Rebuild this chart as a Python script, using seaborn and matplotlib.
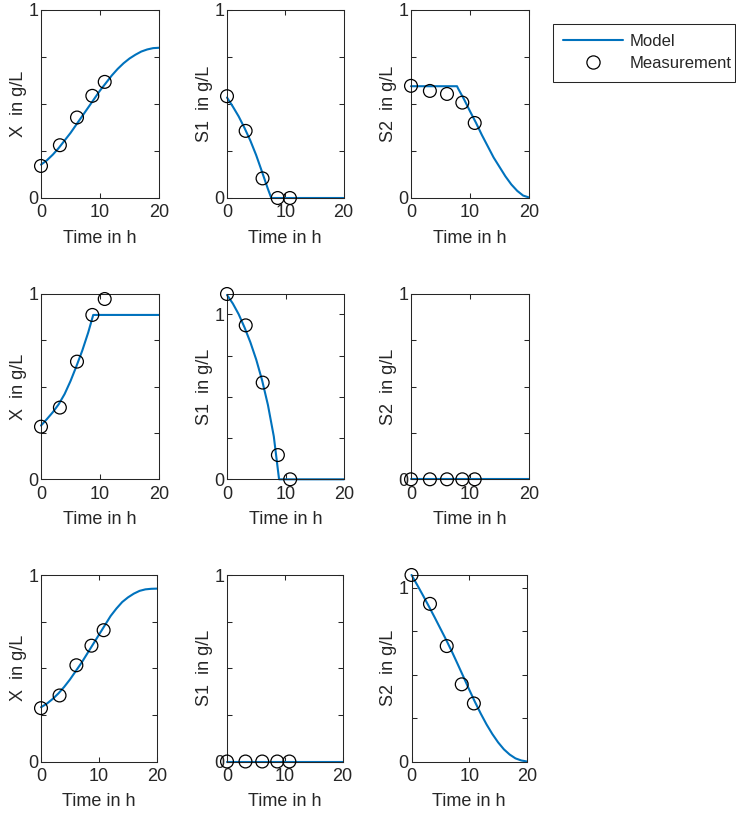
import numpy as np
import matplotlib
matplotlib.use("Agg")
import matplotlib.pyplot as plt
from matplotlib.lines import Line2D
import seaborn as sns

sns.set_style("ticks")
plt.rcParams["font.family"] = ["Liberation Sans", "DejaVu Sans"]

# Sampling times of the measurements (h)
t_meas = [0.0, 3.2, 6.1, 8.7, 10.8]

# Experiment 1 measurements (g/L)
x_meas_1 = [0.170, 0.280, 0.427, 0.542, 0.616]
s1_meas_1 = [0.540, 0.356, 0.104, 0.0, 0.0]
s2_meas_1 = [0.595, 0.568, 0.552, 0.506, 0.398]

# Experiment 2 measurements (g/L)
x_meas_2 = [0.284, 0.387, 0.635, 0.887, 0.973]
s1_meas_2 = [1.123, 0.933, 0.586, 0.147, 0.0]
s2_meas_2 = [0.0, 0.0, 0.0, 0.0, 0.0]

# Experiment 3 measurements (g/L)
x_meas_3 = [0.286, 0.354, 0.516, 0.621, 0.704]
s1_meas_3 = [0.0, 0.0, 0.0, 0.0, 0.0]
s2_meas_3 = [1.073, 0.907, 0.664, 0.444, 0.334]

# Model trajectories
t_hourly = list(range(0, 21))

x_model_1 = [0.177, 0.200, 0.230, 0.265, 0.305, 0.345, 0.390, 0.435, 0.480, 0.525,
             0.570, 0.610, 0.650, 0.685, 0.715, 0.740, 0.760, 0.777, 0.788, 0.795, 0.797]
t_s1_model_1 = [0, 1, 2, 3, 4, 5, 6, 7, 7.6, 20]
s1_model_1 = [0.533, 0.485, 0.433, 0.372, 0.305, 0.228, 0.140, 0.050, 0.0, 0.0]
t_s2_model_1 = [0, 7.8, 8, 9, 10, 11, 12, 13, 14, 15, 16, 17, 18, 19, 20]
s2_model_1 = [0.593, 0.593, 0.580, 0.523, 0.460, 0.400, 0.335, 0.275, 0.215, 0.165,
              0.115, 0.072, 0.038, 0.013, 0.003]

t_x_model_2 = [0, 1, 2, 3, 4, 5, 6, 7, 8, 8.85, 20]
x_model_2 = [0.290, 0.325, 0.362, 0.405, 0.460, 0.530, 0.610, 0.695, 0.792, 0.887, 0.887]
t_s1_model_2 = [0, 1, 2, 3, 4, 5, 6, 7, 8, 8.9, 20]
s1_model_2 = [1.117, 1.065, 1.000, 0.920, 0.830, 0.725, 0.600, 0.450, 0.260, 0.0, 0.0]
t_s2_model_2 = [0, 20]
s2_model_2 = [0.0, 0.0]

x_model_3 = [0.291, 0.310, 0.335, 0.365, 0.400, 0.440, 0.485, 0.530, 0.580, 0.630,
             0.680, 0.730, 0.780, 0.820, 0.855, 0.880, 0.900, 0.915, 0.923, 0.926, 0.927]
t_s1_model_3 = [0, 20]
s1_model_3 = [0.0, 0.0]
s2_model_3 = [1.073, 1.015, 0.955, 0.893, 0.830, 0.765, 0.700, 0.632, 0.560, 0.487,
              0.413, 0.342, 0.275, 0.213, 0.158, 0.110, 0.070, 0.040, 0.018, 0.006, 0.0]

y_labels = ["X  in g/L", "S1  in g/L", "S2  in g/L"]
x_label = "Time in h"
legend_labels = ["Model", "Measurement"]

panels = [
    [(t_hourly, x_model_1, x_meas_1), (t_s1_model_1, s1_model_1, s1_meas_1), (t_s2_model_1, s2_model_1, s2_meas_1)],
    [(t_x_model_2, x_model_2, x_meas_2), (t_s1_model_2, s1_model_2, s1_meas_2), (t_s2_model_2, s2_model_2, s2_meas_2)],
    [(t_hourly, x_model_3, x_meas_3), (t_s1_model_3, s1_model_3, s1_meas_3), (t_hourly, s2_model_3, s2_meas_3)],
]

BLUE = "#0072BD"
DARK = "#262626"
FS = 13

W, H = 736, 817
fig = plt.figure(figsize=(W / 100, H / 100), dpi=100)

# axes boxes in pixels: (left, right) per column for each row, (top, bottom) per row
col_bounds = [
    [(41, 159), (227, 343.5), (411, 529)],
    [(41, 159), (227, 344), (411, 529)],
    [(41, 157), (227, 342.5), (411.5, 527)],
]
row_bounds = [(9.5, 198), (294, 479.3), (575, 761.5)]

for r in range(3):
    top, bot = row_bounds[r]
    for c in range(3):
        x0, x1 = col_bounds[r][c]
        ax = fig.add_axes([x0 / W, 1 - bot / H, (x1 - x0) / W, (bot - top) / H])
        t_mod, y_mod, y_meas = panels[r][c]
        sns.lineplot(x=t_mod, y=y_mod, ax=ax, color=BLUE, linewidth=1.5,
                     estimator=None, sort=False, clip_on=False, zorder=2)
        sns.scatterplot(x=t_meas, y=y_meas, ax=ax, marker="o", s=85,
                        facecolor="none", edgecolor="black", linewidth=0.9,
                        clip_on=False, zorder=3)
        ymax = max(1.0, max(y_meas), max(y_mod))
        ax.set_xlim(0, 20)
        ax.set_ylim(0, ymax)
        ax.set_xticks([0, 10, 20])
        ax.set_xticklabels(["0", "10", "20"])
        ax.set_yticks([0, 0.25, 0.5, 0.75, 1.0])
        ax.set_yticklabels(["0", "", "", "", "1"])
        ax.tick_params(direction="in", length=3.5, width=0.75, top=True, right=True,
                       labelsize=FS, colors=DARK, pad=2)
        ax.tick_params(axis="x", pad=4.5)
        for sp in ax.spines.values():
            sp.set_visible(True)
            sp.set_color(DARK)
            sp.set_linewidth(0.75)
        ax.set_xlabel(x_label, fontsize=FS, color=DARK, labelpad=6)
        ax.set_ylabel(y_labels[c], fontsize=FS, color=DARK, labelpad=1)

handles = [
    Line2D([], [], color=BLUE, linewidth=1.5),
    Line2D([], [], marker="o", linestyle="none", markerfacecolor="none",
           markeredgecolor="black", markersize=9.5, markeredgewidth=0.9),
]
LFS = 12
leg = fig.legend(handles, legend_labels, loc="upper left",
                 bbox_to_anchor=(553 / W, 1 - 78 / H, 182 / W, 54 / H), mode="expand",
                 frameon=True, fancybox=False,
                 edgecolor=DARK, framealpha=1, fontsize=LFS, handlelength=3.6,
                 handletextpad=0.36, borderaxespad=0, borderpad=0.62, labelspacing=0.42)
leg.get_frame().set_linewidth(0.75)
for txt in leg.get_texts():
    txt.set_color(DARK)

fig.savefig("out.png", dpi=100)
